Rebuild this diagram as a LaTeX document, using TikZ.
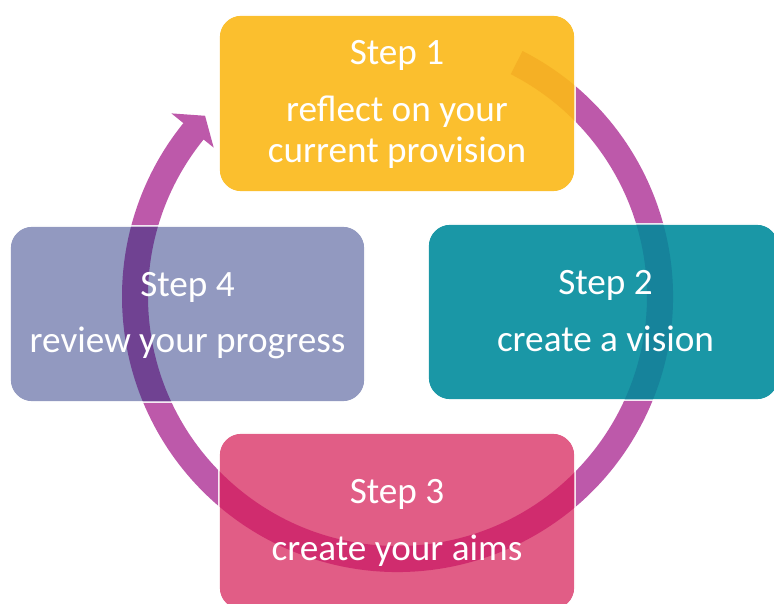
\documentclass[tikz,border=0pt]{standalone}
\usepackage{fontspec}
\setmainfont{Carlito}
\definecolor{ringc}{RGB}{189,89,170}
\definecolor{yel}{RGB}{251,191,46}
\definecolor{yelr}{RGB}{245,176,37}
\definecolor{teal}{RGB}{26,151,166}
\definecolor{tealr}{RGB}{22,131,155}
\definecolor{slate}{RGB}{146,153,192}
\definecolor{slater}{RGB}{112,66,146}
\definecolor{rose}{RGB}{225,93,134}
\definecolor{roser}{RGB}{208,44,110}
\def\ringpath{(63:275.5) arc[start angle=63, end angle=-219, radius=275.5] -- (-219:291) -- (-223.2:264) -- (-219:236.5) -- (-219:249.5) arc[start angle=-219, end angle=63, radius=249.5] -- cycle}
\tikzset{
  stepbox/.style={rectangle, rounded corners=22pt, inner sep=0pt, outer sep=0pt, draw=white, line width=1.2pt, minimum width=356pt, minimum height=177pt},
  lbl/.style={text=white, anchor=base, inner sep=0pt, font=\fontsize{37.2}{40}\selectfont}
}
\begin{document}
\begin{tikzpicture}[x=1pt,y=1pt]
\useasboundingbox (0,0) rectangle (774,603);
% ring arrow
\begin{scope}[shift={(397.5,306.5)}]
\fill[ringc] \ringpath;
\end{scope}
% boxes
\node[stepbox, fill=yel] (s1) at (397,499.5) {};
\node[stepbox, fill=teal, minimum width=351pt, minimum height=176pt] (s2) at (603.5,291) {};
\node[stepbox, fill=slate, minimum width=355pt, minimum height=176pt] (s4) at (187.5,289) {};
\node[stepbox, fill=rose] (s3) at (397,81.5) {};
% ring seen through boxes
\foreach \b/\c in {s1/yelr, s2/tealr, s4/slater, s3/roser}{
  \begin{scope}
    \clip[rounded corners=22pt] (\b.south west) rectangle (\b.north east);
    \fill[\c, shift={(397.5,306.5)}] \ringpath;
  \end{scope}
  \draw[white, line width=1.2pt, rounded corners=22pt] (\b.south west) rectangle (\b.north east);
}
% texts
\node[lbl] (t1a) at (397,538) {Step 1};
\node[lbl] (t1b) at (397,481) {reflect on your};
\node[lbl] (t1c) at (397,440) {current provision};
\node[lbl] (t2a) at (605.5,308) {Step 2};
\node[lbl] (t2b) at (605.5,251) {create a vision};
\node[lbl] (t4a) at (187.5,306) {Step 4};
\node[lbl] (t4b) at (187.5,250) {review your progress};
\node[lbl] (t3a) at (397,100) {Step 3};
\node[lbl] (t3b) at (397,43) {create your aims};
\end{tikzpicture}
\end{document}
